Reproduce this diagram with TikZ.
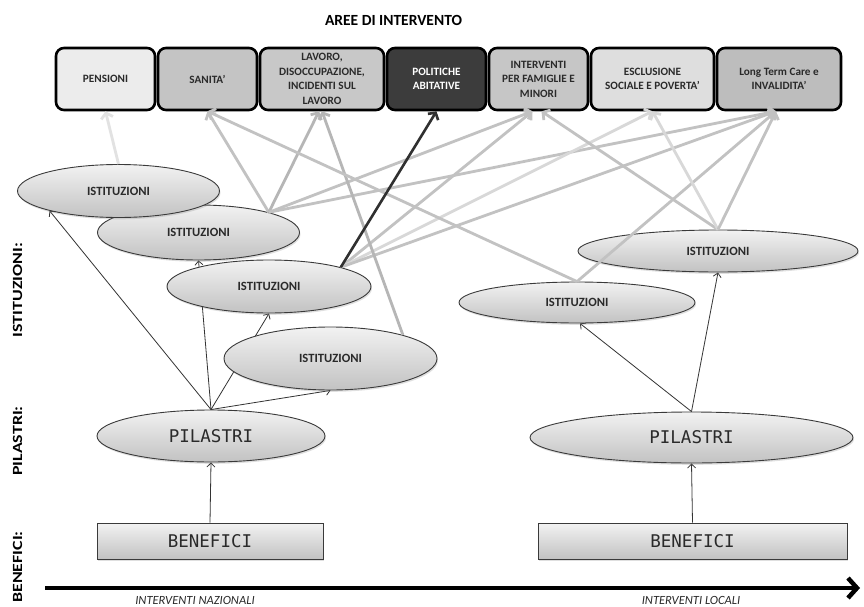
\documentclass[tikz,border=0pt]{standalone}
\usepackage{fontspec}
\setmainfont{Carlito}
\newfontfamily\sidefont[FakeStretch=1.28]{Carlito}
\newfontfamily\monofam{DejaVu Sans Mono}
\usetikzlibrary{arrows.meta,shapes.geometric,shadows}

\definecolor{boxtxt}{HTML}{2A2A2A}
\definecolor{fillPen}{HTML}{ECECEC}
\definecolor{fillSan}{HTML}{C4C4C4}
\definecolor{fillLav}{HTML}{C8C8C8}
\definecolor{fillPol}{HTML}{3C3C3C}
\definecolor{fillInt}{HTML}{C6C6C6}
\definecolor{fillEsc}{HTML}{DEDEDE}
\definecolor{fillLtc}{HTML}{BDBDBD}
\definecolor{ovTop}{HTML}{F2F2F2}
\definecolor{ovBot}{HTML}{C2C2C2}
\definecolor{ovLine}{HTML}{3A3A3A}
\definecolor{feedCol}{HTML}{333333}
\definecolor{greyA}{HTML}{C2C2C2}
\definecolor{greyB}{HTML}{B6B6B6}
\definecolor{greyL}{HTML}{D8D8D8}
\definecolor{greyXL}{HTML}{E2E2E2}
\definecolor{darkArr}{HTML}{303030}

\pgfdeclarelayer{paper}
\pgfdeclarelayer{links}
\pgfsetlayers{paper,links,main}

\begin{document}
\begin{tikzpicture}[x=1pt,y=-1pt,
  area/.style={draw=black, line width=2.6pt, rounded corners=8pt, inner sep=0pt,
    minimum height=62pt, align=center, text=boxtxt,
    font=\bfseries\fontsize{11.2}{14.5}\selectfont},
  oval/.style={ellipse, draw=ovLine, line width=0.9pt, top color=ovTop, bottom color=ovBot,
    drop shadow={opacity=0.25, shadow xshift=1pt, shadow yshift=-1.8pt},
    inner sep=0pt, text=boxtxt},
  inst/.style={oval, font=\bfseries\fontsize{12.6}{14}\selectfont},
  pillar/.style={oval, font=\monofam\fontsize{17.5}{20}\selectfont},
  benefit/.style={rectangle, draw=ovLine, line width=0.9pt, top color=ovTop, bottom color=ovBot,
    drop shadow={opacity=0.25, shadow xshift=1pt, shadow yshift=-1.8pt},
    inner sep=0pt, minimum height=36pt, text=boxtxt,
    font=\monofam\fontsize{17.5}{20}\selectfont},
  sidelabel/.style={rotate=90, text=black, font=\sidefont\bfseries\fontsize{14}{16}\selectfont},
  axislabel/.style={anchor=base, text=boxtxt, font=\itshape\fontsize{12.5}{14}\selectfont},
  feed/.style={draw=feedCol, line width=0.8pt, -{Straight Barb[length=4pt,width=8pt]}},
  gline/.style={line width=2.8pt, -{Straight Barb[length=5pt,width=12pt]}},
]

\begin{pgfonlayer}{paper}
  \fill[white] (0,0) rectangle (864,607);
\end{pgfonlayer}
\useasboundingbox (0,0) rectangle (864,607);

% title
\node[font=\bfseries\fontsize{15.5}{18}\selectfont, text=black] (title) at (393.5,20) {AREE DI INTERVENTO};

% intervention areas
\node[area, fill=fillPen, minimum width=99pt] (pens) at (105.5,79) {PENSIONI};
\node[area, fill=fillSan, minimum width=99pt] (sani) at (207.5,79) {SANITA’};
\node[area, fill=fillLav, minimum width=124pt] (lav) at (322,79) {LAVORO,\\DISOCCUPAZIONE,\\INCIDENTI SUL\\LAVORO};
\node[area, fill=fillPol, minimum width=99pt, text=white] (pol) at (436.5,79) {POLITICHE\\ABITATIVE};
\node[area, fill=fillInt, minimum width=99pt] (intv) at (538.5,79) {INTERVENTI\\PER FAMIGLIE E\\MINORI};
\node[area, fill=fillEsc, minimum width=123pt] (escl) at (652.5,79) {ESCLUSIONE\\SOCIALE E POVERTA’};
\node[area, fill=fillLtc, minimum width=124pt] (ltc) at (779,79) {Long Term Care e\\INVALIDITA’};

% national institutions (lower ones first, so upper ones overlap them)
\node[inst, minimum width=213pt, minimum height=63pt] (e4) at (330.5,358.5) {ISTITUZIONI};
\node[inst, minimum width=204pt, minimum height=53pt] (e3) at (269,286.5) {ISTITUZIONI};
\node[inst, minimum width=202pt, minimum height=55pt] (e2) at (198.5,232.5) {ISTITUZIONI};
\node[inst, minimum width=202pt, minimum height=53pt] (e1) at (118.5,191) {ISTITUZIONI};

% local institutions
\node[inst, minimum width=236pt, minimum height=41pt] (er1) at (577,302.5) {ISTITUZIONI};
\node[inst, minimum width=280pt, minimum height=42pt] (er2) at (718,251) {ISTITUZIONI};

% pillars and benefits
\node[pillar, minimum width=228pt, minimum height=52pt] (pl) at (211,436) {PILASTRI};
\node[pillar, minimum width=323pt, minimum height=51pt] (pr) at (691.5,437.5) {PILASTRI};
\node[benefit, minimum width=226pt] (bl) at (210,541) {BENEFICI};
\node[benefit, minimum width=309pt] (br) at (692.5,541) {BENEFICI};

% links from benefits to pillars to institutions (behind the ovals)
\begin{pgfonlayer}{links}
  \draw[feed] (bl.north) -- (pl.south);
  \draw[feed] (pl.north) -- (e1.196);
  \draw[feed] (pl.north) -- (e2.south);
  \draw[feed] (pl.north) -- (e3.south);
  \draw[feed] (pl.north) -- (e4.south);
  \draw[feed] (br.north) -- (pr.south);
  \draw[feed] (pr.north) -- ([xshift=3pt]er1.south);
  \draw[feed] (pr.north) -- (er2.south);
\end{pgfonlayer}

% institutions to intervention areas
\draw[gline, draw=greyXL] (e1.north) -- (pens.south);
\draw[gline, draw=greyA] (e2.16) -- (sani.south);
\draw[gline, draw=greyB] (e2.16) -- ([xshift=-3pt]lav.south);
\draw[gline, draw=greyA] (e2.16) -- ([xshift=-6pt]intv.south);
\draw[gline, draw=greyA] (e2.16) -- ([xshift=-3pt]ltc.south);
\draw[gline, draw=greyA] (e3.15) -- ([xshift=-6pt]intv.south);
\draw[gline, draw=greyL] (e3.15) -- (escl.south);
\draw[gline, draw=greyA] (e3.15) -- ([xshift=-3pt]ltc.south);
\draw[gline, draw=greyB] (e4.18) -- (lav.south);
\draw[gline, draw=greyA] (er1.north) -- (sani.south);
\draw[gline, draw=greyA] (er1.north) -- ([xshift=-3pt]ltc.south);
\draw[gline, draw=greyA] (er2.north) -- ([xshift=3pt]intv.south);
\draw[gline, draw=greyL] (er2.north) -- (escl.south);
\draw[gline, draw=greyA] (er2.north) -- ([xshift=-3pt]ltc.south);
\draw[line width=2.6pt, draw=darkArr, -{Straight Barb[length=5pt,width=12pt]}] (e3.15) -- (pol.south);

% level labels
\node[sidelabel] (lIst) at (17.5,290) {ISTITUZIONI:};
\node[sidelabel] (lPil) at (17.5,441) {PILASTRI:};
\node[sidelabel] (lBen) at (17.5,567) {BENEFICI:};

% national / local axis
\coordinate (axL) at (45,588);
\coordinate (axR) at (860,588);
\draw[line width=4.5pt, -{Straight Barb[length=9pt,width=20pt]}] (axL) -- (axR);
\node[axislabel] (nat) at (195,604) {INTERVENTI NAZIONALI};
\node[axislabel] (loc) at (691,604) {INTERVENTI LOCALI};

\end{tikzpicture}
\end{document}
